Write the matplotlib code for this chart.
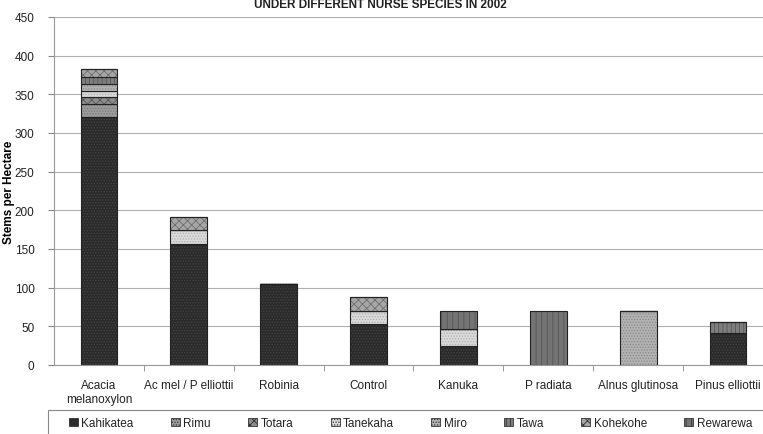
import matplotlib
matplotlib.use("Agg")
import matplotlib.pyplot as plt
from matplotlib.patches import Patch, Rectangle
import numpy as np

plt.rcParams['font.family'] = ['Liberation Sans', 'DejaVu Sans']
plt.rcParams['hatch.linewidth'] = 0.6

categories = ["Acacia\nmelanoxylon", "Ac mel / P elliottii", "Robinia", "Control",
              "Kanuka", "P radiata", "Alnus glutinosa", "Pinus elliottii"]

kahikatea = [321, 157, 105, 53, 24, 0, 0, 42]
rimu      = [17, 0, 0, 0, 0, 0, 0, 0]
totara    = [9, 0, 0, 0, 0, 0, 0, 0]
tanekaha  = [7, 17, 0, 17, 23, 0, 0, 0]
miro      = [9, 0, 0, 0, 0, 0, 70, 0]
tawa      = [10, 0, 0, 0, 0, 0, 0, 13]
kohekohe  = [10, 17, 0, 18, 0, 0, 0, 0]
rewarewa  = [0, 0, 0, 0, 23, 70, 0, 0]

series_names = ["Kahikatea", "Rimu", "Totara", "Tanekaha", "Miro", "Tawa", "Kohekohe", "Rewarewa"]
series_vals = [kahikatea, rimu, totara, tanekaha, miro, tawa, kohekohe, rewarewa]
fills   = ["#2b2b2b", "#9c9c9c", "#8c8c8c", "#dadada", "#b2b2b2", "#7e7e7e", "#a6a6a6", "#747474"]
hcolors = ["#444444", "#7a7a7a", "#5a5a5a", "#b0b0b0", "#8a8a8a", "#555555", "#707070", "#555555"]
hatches = ["......", "......", "xxxx", "......", "......", "||||", "xxxx", "|||"]

W, H = 763, 435
fig = plt.figure(figsize=(W/100, H/100), dpi=100)
ax = fig.add_axes([54/W, 1-366/H, (W-54)/W, (366-18)/H])

x = np.arange(len(categories))
bottom = np.zeros(len(categories))
handles = []
for name, vals, fc, hc, h in zip(series_names, series_vals, fills, hcolors, hatches):
    v = np.array(vals, dtype=float)
    ax.bar(x, v, 0.41, bottom=bottom, facecolor=fc, edgecolor=hc,
           linewidth=0, hatch=h)
    ax.bar(x, v, 0.41, bottom=bottom, fill=False, edgecolor="#222222", linewidth=0.8)
    handles.append(Patch(facecolor=fc, edgecolor="#333333", hatch=h, linewidth=0.6, label=name))
    bottom += v

ax.set_ylim(0, 450)
ax.set_yticks(np.arange(0, 451, 50))
ax.set_xlim(-0.5, 7.5 - 10/90)
ax.set_xticks(x)
ax.set_xticklabels(categories, fontsize=8.5, color="#222222")
ax.tick_params(axis='x', length=0, pad=10)
ax.set_xticks(np.arange(0.5, 7.5, 1), minor=True)
ax.tick_params(axis='x', which='minor', length=4, color="#888888", direction='out')
ax.tick_params(axis='y', labelsize=8.5, labelcolor="#222222", length=4, color="#888888", pad=10)
ax.yaxis.grid(True, color="#b0b0b0", linewidth=0.8)
ax.set_axisbelow(True)
for s in ["top", "right"]:
    ax.spines[s].set_visible(False)
ax.spines["left"].set_color("#999999")
ax.spines["bottom"].set_color("#999999")
ax.set_ylabel("Stems per Hectare", fontsize=8.5, fontweight="bold")
ax.yaxis.set_label_coords((15-54)/(W-54), 0.5)

fig.text(380/W, 1-8.5/H, "UNDER DIFFERENT NURSE SPECIES IN 2002", ha="center",
         va="baseline", fontsize=8.5, fontweight="bold", color="#222222")

# legend frame
fig.patches.append(Rectangle((48/W, -0.05), 1.0, (435-411)/H + 0.05,
                             transform=fig.transFigure, fill=False,
                             edgecolor="#888888", linewidth=0.8))
leg = fig.legend(handles=handles, loc="center left", ncol=8, mode="expand",
                 bbox_to_anchor=(69/W, 1-424/H, 683/W, 0),
                 fontsize=8.5, frameon=False, handlelength=0.75,
                 handleheight=0.75, handletextpad=0.3, borderaxespad=0,
                 borderpad=0, columnspacing=0)
for t in leg.get_texts():
    t.set_color("#222222")

fig.savefig("out.png", dpi=100)
